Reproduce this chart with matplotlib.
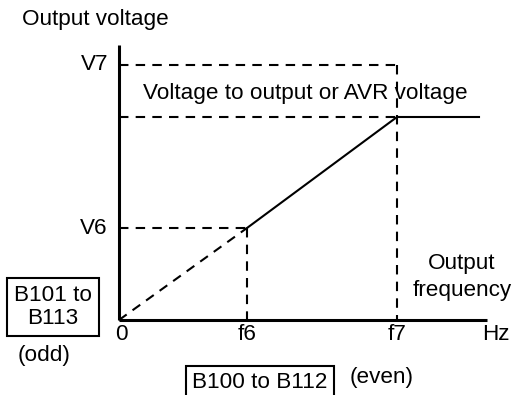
import matplotlib
matplotlib.use("Agg")
import matplotlib.pyplot as plt

plt.rcParams['font.family'] = ['Liberation Sans', 'DejaVu Sans']
plt.rcParams['lines.scale_dashes'] = False

# V/f curve break points (arbitrary units along each axis)
f_points = [0, 128, 278, 360]     # 0, f6, f7, end of flat part
v_points = [0, 92, 203, 203]      # 0, V6, AVR, AVR
v7 = 255
x_max, y_max = 368, 275

freq_labels = ["0", "f6", "f7"]
volt_labels = ["V6", "V7"]

fig = plt.figure(figsize=(5.21, 3.95), dpi=100)
ax = fig.add_axes([119 / 521, 75 / 395, 368 / 521, 275 / 395])
ax.set_xlim(0, x_max)
ax.set_ylim(0, y_max)
for s in ["top", "right"]:
    ax.spines[s].set_visible(False)
for s in ["left", "bottom"]:
    ax.spines[s].set_linewidth(2.2)
    ax.spines[s].set_capstyle("butt")
ax.set_xticks([])
ax.set_yticks([])
ax.patch.set_alpha(0)

f0, f6, f7, fend = f_points
v0, v6, vavr, _ = v_points
dash = dict(color="black", lw=1.5, linestyle=(0, (6.8, 5.2)), clip_on=False)

# guide lines
ax.plot([0, f7], [v7, v7], **dash)
ax.plot([f7, f7], [v7, 0], **dash)
ax.plot([0, f7], [vavr, vavr], **dash)
ax.plot([0, f6], [v6, v6], **dash)
ax.plot([f6, f6], [v6, 0], **dash)
ax.plot([f0, f6], [v0, v6], **dash)

# actual output curve
ax.plot(f_points[1:], v_points[1:], color="black", lw=1.5, clip_on=False)

fs = 16.2
ax.text(-97, 301, "Output voltage", fontsize=fs, ha="left", va="center")
ax.text(-11, v7, volt_labels[1], fontsize=fs, ha="right", va="center")
ax.text(-11, v6, volt_labels[0], fontsize=fs, ha="right", va="center")
for xv, lab in zip([2, f6, f7], freq_labels):
    ax.text(xv, -15, lab, fontsize=fs, ha="center", va="center")
ax.text(377, -15, "Hz", fontsize=fs, ha="center", va="center")
ax.text(24, 227, "Voltage to output or AVR voltage", fontsize=fs,
        ha="left", va="center")
ax.text(343, 43, "Output\nfrequency", fontsize=fs, ha="center",
        va="center", linespacing=1.38)

box = dict(boxstyle="square,pad=0.3", fc="white", ec="black", lw=1.5)
ax.text(-66, 13, "B101 to\nB113", fontsize=fs, ha="center", va="center",
        multialignment="center", linespacing=1.12, bbox=box)
ax.text(-75, -35, "(odd)", fontsize=fs, ha="center", va="center")
ax.text(141, -63, "B100 to B112", fontsize=fs, ha="center", va="center",
        bbox=box)
ax.text(263, -58, "(even)", fontsize=fs, ha="center", va="center")

fig.savefig("out.png", dpi=100)
